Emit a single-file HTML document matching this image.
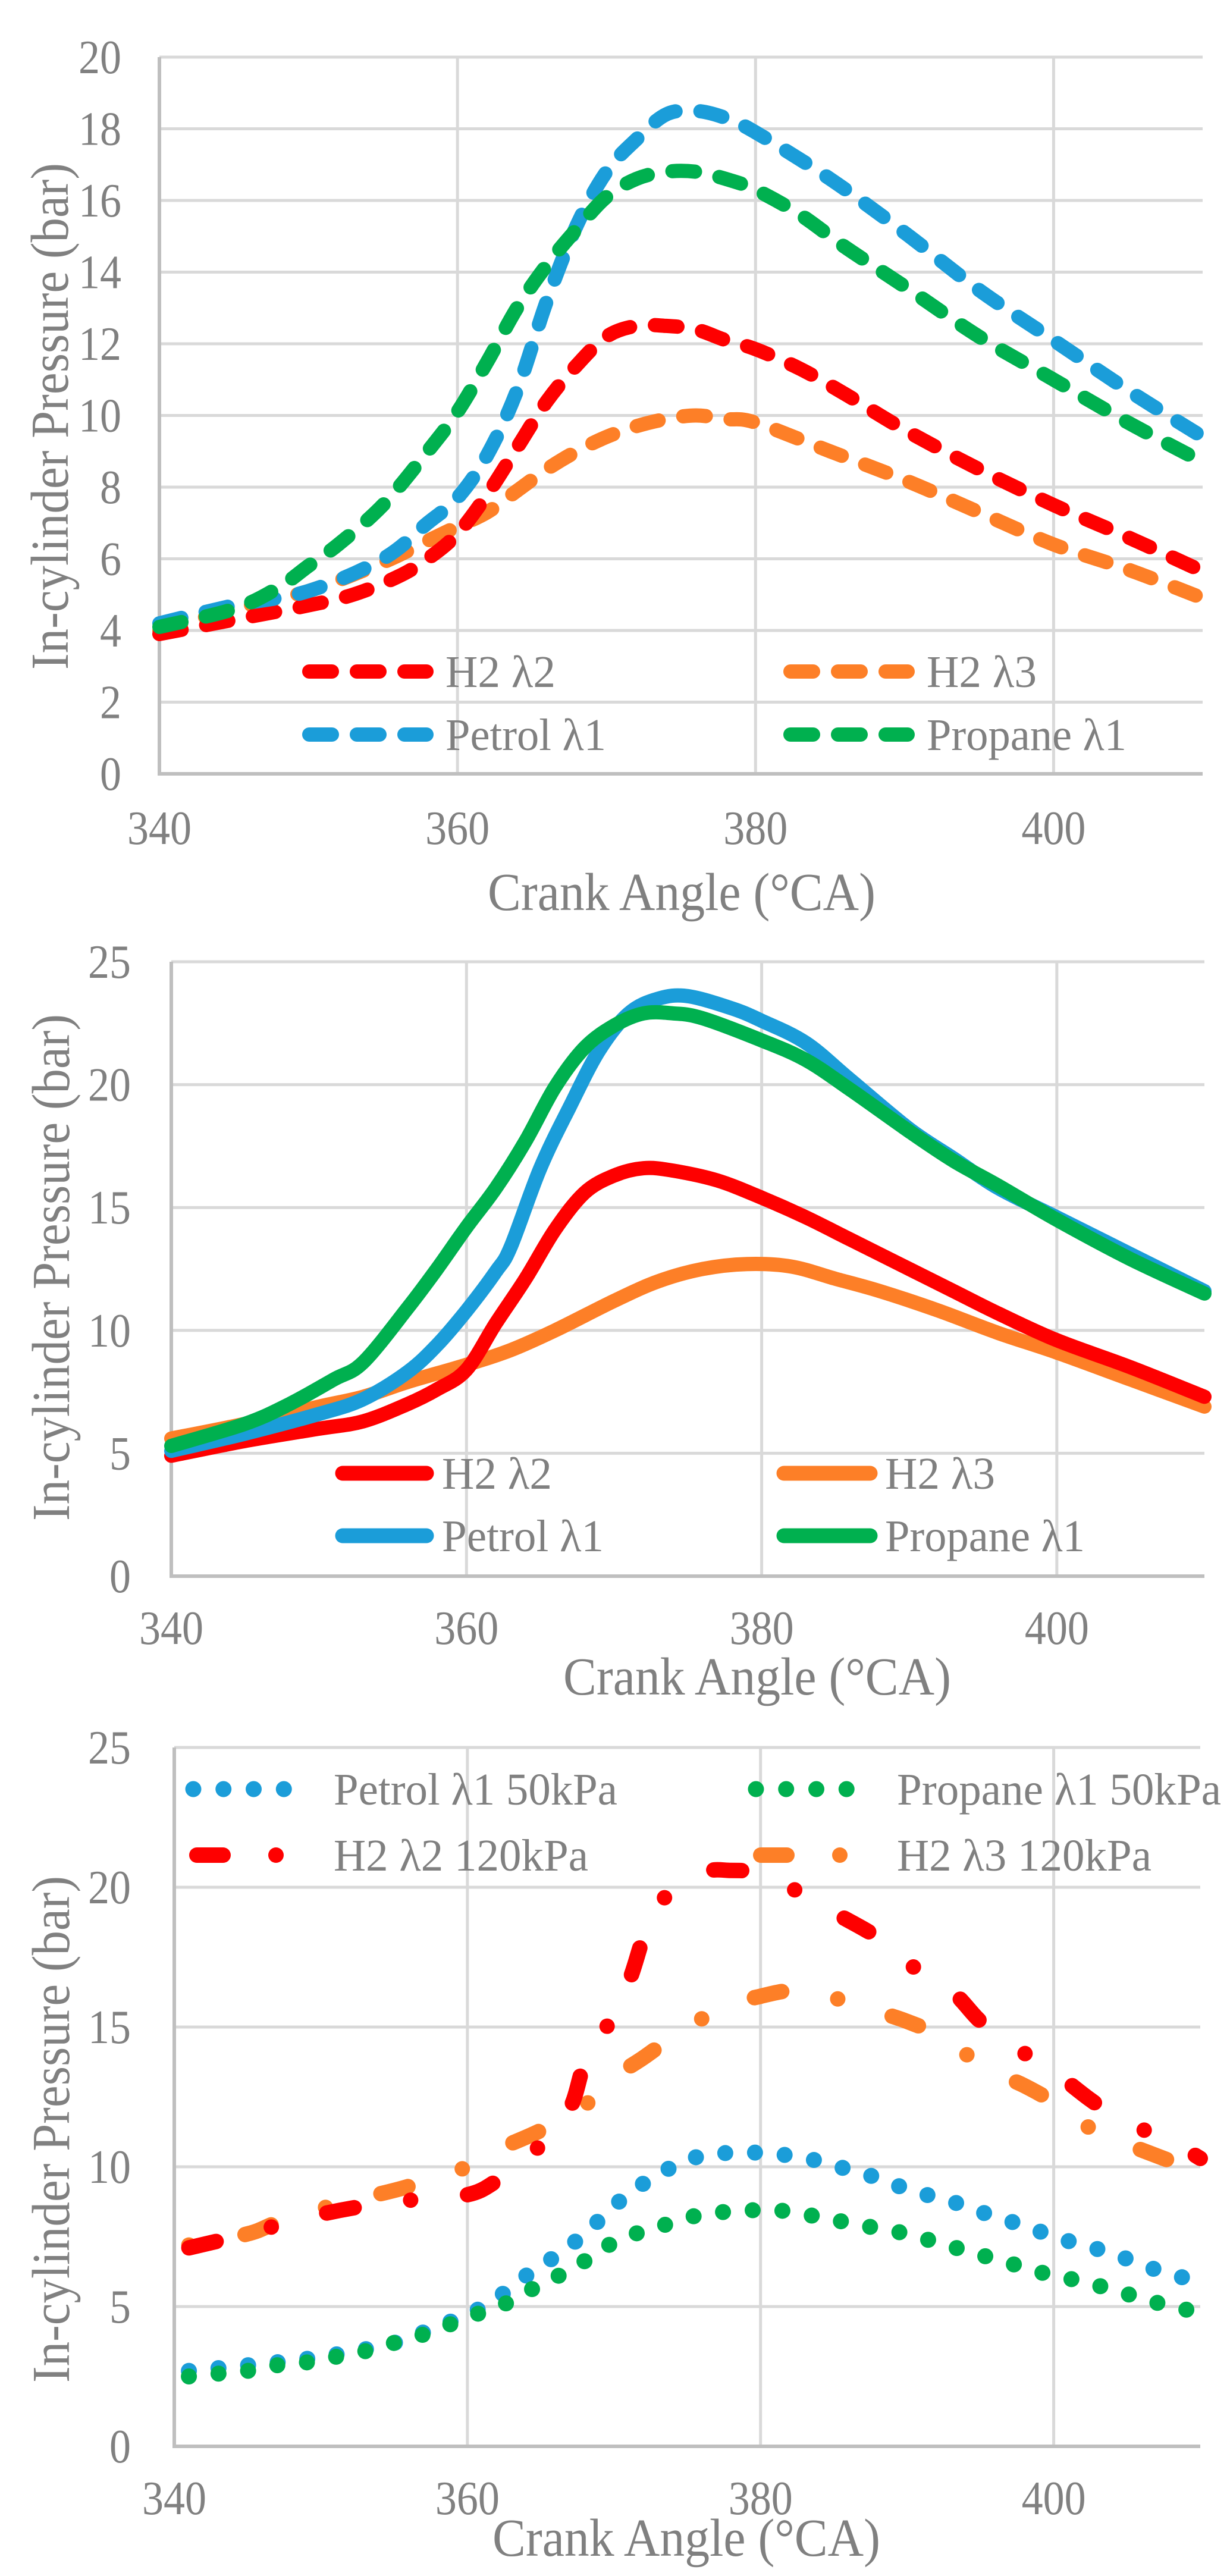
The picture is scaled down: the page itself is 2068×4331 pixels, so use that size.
<!DOCTYPE html>
<html><head><meta charset="utf-8"><title>In-cylinder pressure charts</title>
<style>
html,body{margin:0;padding:0;background:#fff;}
svg{display:block;}
text{font-family:"Liberation Serif",serif;fill:#808080;}
</style></head>
<body>
<svg id="root" width="2068" height="4331" viewBox="0 0 2068 4331" xmlns="http://www.w3.org/2000/svg"></svg>
<script>
// ---------- DATA ----------
const xTicks = [340, 360, 380, 400];
const yTicks1 = [0, 2, 4, 6, 8, 10, 12, 14, 16, 18, 20];
const yTicks2 = [0, 5, 10, 15, 20, 25];
const yTicks3 = [0, 5, 10, 15, 20, 25];

// Chart 1 (dashed)
const c1PetrolX = [340,345,350,355,358,360,362,364,366,368,370,372,374,376,378,380,385,390,395,400,405,410];
const c1PetrolY = [4.2,4.7,5.1,6.0,7.0,7.7,8.9,10.7,13.2,15.3,16.8,17.7,18.4,18.5,18.3,17.9,16.6,15.1,13.5,12.1,10.7,9.4];
const c1PropaneX = [340,345,348,350,352,355,358,360,362,364,366,368,370,372,374,376,378,380,383,386,390,395,400,405,410];
const c1PropaneY = [4.1,4.6,5.2,5.8,6.4,7.5,9.0,10.1,11.5,13.0,14.2,15.2,16.1,16.6,16.8,16.8,16.6,16.3,15.6,14.7,13.6,12.2,11.0,9.8,8.7];
const c1H2l2X = [340,345,350,353,356,358,360,362,364,366,368,370,372,374,376,378,380,383,386,390,395,400,405,410];
const c1H2l2Y = [3.9,4.3,4.7,5.0,5.5,6.0,6.7,7.8,9.1,10.4,11.4,12.2,12.5,12.5,12.4,12.1,11.85,11.3,10.6,9.6,8.5,7.5,6.6,5.65];
const c1H2l3X = [340,345,350,355,358,360,362,364,366,368,370,372,374,376,378,380,385,390,395,400,405,410];
const c1H2l3Y = [4.0,4.6,5.1,5.9,6.5,6.9,7.3,7.9,8.5,9.0,9.4,9.7,9.9,10.0,9.9,9.8,9.0,8.2,7.3,6.4,5.7,4.9];

// Chart 2 (solid)
const c2PetrolX = [340,345,350,353,356,358,360,362,363,365,367,369,371,373,375,378,380,383,386,390,393,396,400,405,410];
const c2PetrolY = [5.1,5.8,6.6,7.2,8.3,9.4,10.8,12.4,13.4,16.6,19.1,21.4,22.9,23.5,23.6,23.1,22.6,21.7,20.2,18.2,17.0,15.8,14.6,13.1,11.6];
const c2PropaneX = [340,345,348,351,353,356,358,360,362,364,366,368,370,372,374,376,380,383,386,390,393,396,400,405,410];
const c2PropaneY = [5.3,6.2,7.0,8.0,8.7,10.9,12.5,14.2,15.8,17.7,19.9,21.5,22.4,22.9,22.9,22.7,21.8,21.0,19.8,18.1,16.9,15.9,14.5,12.9,11.5];
const c2H2l2X = [340,345,350,353,356,358,360,362,364,366,368,370,372,374,377,380,383,386,390,393,396,400,405,410];
const c2H2l2Y = [4.9,5.5,6.0,6.3,7.0,7.6,8.4,10.3,12.1,14.1,15.6,16.3,16.6,16.5,16.1,15.4,14.6,13.7,12.5,11.6,10.7,9.6,8.5,7.3];
const c2H2l3X = [340,345,350,353,356,360,363,366,370,373,376,379,382,385,388,392,396,400,405,410];
const c2H2l3Y = [5.6,6.2,6.9,7.3,7.9,8.6,9.2,10.0,11.2,12.0,12.5,12.7,12.6,12.1,11.6,10.8,9.9,9.1,8.0,6.9];

// Chart 3 (dotted / dash-dot)
const c3PetrolX = [341,345,350,355,358,360,362,364,366,368,370,372,374,376,378,380,382,384,386,388,390,392,394,396,398,400,402,404,406,408,410];
const c3PetrolY = [2.7,2.9,3.2,3.7,4.3,4.7,5.3,6.1,6.8,7.6,8.6,9.4,10.0,10.4,10.5,10.5,10.4,10.2,9.9,9.6,9.2,8.9,8.6,8.2,7.9,7.5,7.2,6.9,6.5,6.15,5.9];
const c3PropaneX = [341,343,345,347,349,351,353,355,357,359,361,363,365,367,368.5,370,372,374,376,378,380,382,384,386,388,390,392,394,396,398,400,402,404,406,408,410];
const c3PropaneY = [2.5,2.6,2.7,2.9,3.0,3.2,3.4,3.7,4.0,4.4,4.8,5.2,5.8,6.3,6.8,7.3,7.7,8.0,8.3,8.4,8.45,8.4,8.2,8.0,7.8,7.6,7.3,7.0,6.7,6.4,6.1,5.9,5.6,5.3,5.0,4.8];
const c3H2l2X = [341,345,347,350,353,356,360,362,364,365,367,368,369.5,371,372,373,376,378,380,382,385,388,390,393,395,397,400,402.5,404.5,408,410];
const c3H2l2Y = [7.1,7.6,7.9,8.3,8.6,8.8,9.0,9.5,10.3,10.8,12.1,13.7,15.0,16.6,18.2,19.4,20.5,20.6,20.5,20.0,19.1,18.2,17.3,16.3,15.2,14.4,13.4,12.4,11.7,10.9,10.3];
const c3H2l3X = [341,345,347,350,353,356,360,362,365,368,370,372,375,378,380,382,384,387,390,393,395,398,401,403,406,410];
const c3H2l3Y = [7.2,7.6,8.0,8.5,8.9,9.3,10.0,10.6,11.3,12.2,13.2,13.9,15.0,15.8,16.1,16.3,16.2,15.7,15.2,14.5,13.6,12.9,12.0,11.2,10.6,9.8];

// ---------- DRAWING ----------
const NS = "http://www.w3.org/2000/svg";
const root = document.getElementById("root");
function mk(tag, attrs, parent){
  const e = document.createElementNS(NS, tag);
  for (const k in attrs) e.setAttribute(k, attrs[k]);
  (parent||root).appendChild(e);
  return e;
}
function smoothPath(pts){
  let d = "M" + pts[0][0].toFixed(1) + "," + pts[0][1].toFixed(1);
  for (let i=0;i<pts.length-1;i++){
    const p0 = pts[i-1]||pts[i], p1 = pts[i], p2 = pts[i+1], p3 = pts[i+2]||pts[i+1];
    const c1x = p1[0]+(p2[0]-p0[0])/6, c1y = p1[1]+(p2[1]-p0[1])/6;
    const c2x = p2[0]-(p3[0]-p1[0])/6, c2y = p2[1]-(p3[1]-p1[1])/6;
    d += " C"+c1x.toFixed(1)+","+c1y.toFixed(1)+" "+c2x.toFixed(1)+","+c2y.toFixed(1)+" "+p2[0].toFixed(1)+","+p2[1].toFixed(1);
  }
  return d;
}

function drawChart(cfg){
  const g = mk("g", {});
  
  
  const sx = v => cfg.x0 + (v-340)/(410-340)*(cfg.x1-cfg.x0);
  const sy = v => cfg.yb + (v-0)/(cfg.ymax)*(cfg.yt-cfg.yb);
  // grid
  const gg = mk("g", {}, g);
  
  
  cfg.yTicks.forEach(t => { if (t>0) {
    const l = mk("line", {x1:cfg.x0, x2:cfg.x1, y1:sy(t), y2:sy(t), stroke:"#d9d9d9", "stroke-width":5}, gg);
    
    
  }});
  cfg.xTicks.forEach(t => { if (t>340) {
    const l = mk("line", {x1:sx(t), x2:sx(t), y1:cfg.yt, y2:cfg.yb, stroke:"#d9d9d9", "stroke-width":5}, gg);
    
    
  }});
  // axes
  const ya = mk("line", {x1:cfg.x0, x2:cfg.x0, y1:cfg.yt, y2:cfg.yb+3, stroke:"#bfbfbf", "stroke-width":6}, g);
  
  
  const xa = mk("line", {x1:cfg.x0-3, x2:cfg.x1, y1:cfg.yb, y2:cfg.yb, stroke:"#bfbfbf", "stroke-width":6}, g);
  
  
  // tick labels
  cfg.yTicks.forEach(t => {
    const s = String(t);
    const tx = mk("text", {x:cfg.yLabRight, y:sy(t)+27, "font-size":80, "text-anchor":"end", textLength:s.length*36, lengthAdjust:"spacingAndGlyphs"}, g);
    tx.textContent = s;
    
    
  });
  cfg.xTicks.forEach(t => {
    const s = String(t);
    const tx = mk("text", {x:sx(t), y:cfg.xLabY+27, "font-size":80, "text-anchor":"middle", textLength:108, lengthAdjust:"spacingAndGlyphs"}, g);
    tx.textContent = s;
    
    
  });
  // axis titles
  const xt = mk("text", {x:cfg.xTitleX, y:cfg.xTitleY+30, "font-size":90, "text-anchor":"middle", textLength:652, lengthAdjust:"spacingAndGlyphs"}, g);
  xt.textContent = "Crank Angle (°CA)";
  
  
  const yt = mk("text", {x:0, y:0, "font-size":90, "text-anchor":"middle", textLength:852, lengthAdjust:"spacingAndGlyphs",
    transform:"translate("+(cfg.yTitleX+30)+","+cfg.yTitleY+") rotate(-90)"}, g);
  yt.textContent = "In-cylinder Pressure (bar)";
  
  
  // series
  cfg.series.forEach(s => {
    const pts = s.x.map((v,i)=>[sx(v), sy(s.y[i])]);
    const p = mk("path", {d:smoothPath(pts), fill:"none", stroke:s.color, "stroke-width":s.width, "stroke-linecap":"round", "stroke-linejoin":"round"}, g);
    if (s.dash) p.setAttribute("stroke-dasharray", s.dash);
    if (s.offset) p.setAttribute("stroke-dashoffset", s.offset);
    
    
  });
  // legend
  cfg.legend.forEach(L => {
    const lg = mk("g", {}, g);
    
    
    if (L.kind === "dashdot") {
      mk("line", {x1:L.sx0+13, x2:L.sx0+57, y1:L.y, y2:L.y, stroke:L.color, "stroke-width":L.width, "stroke-linecap":"round"}, lg);
      mk("circle", {cx:L.sx0+146, cy:L.y, r:L.width/2, fill:L.color}, lg);
    } else {
      const ln = mk("line", {x1:L.sx0, x2:L.sx1, y1:L.y, y2:L.y, stroke:L.color, "stroke-width":L.width, "stroke-linecap":"round"}, lg);
      if (L.dash) ln.setAttribute("stroke-dasharray", L.dash);
    }
    const tx = mk("text", {x:L.tx, y:L.y+26, "font-size":76, textLength:L.tw, lengthAdjust:"spacingAndGlyphs"}, lg);
    tx.textContent = L.label;
  });
}

const dash1 = "38 42";
drawChart({
  name:"chart-dashed-pressure", x0:268, x1:2022, yb:1301, yt:96, ymax:20,
  xTicks:xTicks, yTicks:yTicks1, yLabRight:204, xLabY:1392, xTitleX:1146, xTitleY:1500, yTitleX:84, yTitleY:700,
  series:[
    {x:c1H2l3X, y:c1H2l3Y, color:"#fd7f27", width:24, dash:dash1, dname:"series-h2-lambda3-dashed"},
    {x:c1H2l2X, y:c1H2l2Y, color:"#fe0000", width:24, dash:dash1, dname:"series-h2-lambda2-dashed"},
    {x:c1PetrolX, y:c1PetrolY, color:"#1b9dd9", width:24, dash:dash1, dname:"series-petrol-dashed"},
    {x:c1PropaneX, y:c1PropaneY, color:"#00b04f", width:24, dash:dash1, dname:"series-propane-dashed"}
  ],
  legend:[
    {label:"H2 λ2", color:"#fe0000", width:24, sx0:520, sx1:717, dash:dash1, y:1129, tx:749, tw:185},
    {label:"H2 λ3", color:"#fd7f27", width:24, sx0:1329, sx1:1526, dash:dash1, y:1129, tx:1558, tw:185},
    {label:"Petrol λ1", color:"#1b9dd9", width:24, sx0:520, sx1:717, dash:dash1, y:1235, tx:749, tw:270},
    {label:"Propane λ1", color:"#00b04f", width:24, sx0:1329, sx1:1526, dash:dash1, y:1235, tx:1558, tw:336}
  ]
});

drawChart({
  name:"chart-solid-pressure", x0:288, x1:2025, yb:2650, yt:1617, ymax:25,
  xTicks:xTicks, yTicks:yTicks2, yLabRight:220, xLabY:2737, xTitleX:1273, xTitleY:2819, yTitleX:86, yTitleY:2131,
  series:[
    {x:c2H2l3X, y:c2H2l3Y, color:"#fd7f27", width:24, dname:"series-h2-lambda3-solid"},
    {x:c2H2l2X, y:c2H2l2Y, color:"#fe0000", width:24, dname:"series-h2-lambda2-solid"},
    {x:c2PetrolX, y:c2PetrolY, color:"#1b9dd9", width:24, dname:"series-petrol-solid"},
    {x:c2PropaneX, y:c2PropaneY, color:"#00b04f", width:24, dname:"series-propane-solid"}
  ],
  legend:[
    {label:"H2 λ2", color:"#fe0000", width:25, sx0:576, sx1:717, y:2477, tx:743, tw:185},
    {label:"H2 λ3", color:"#fd7f27", width:25, sx0:1318, sx1:1463, y:2477, tx:1488, tw:185},
    {label:"Petrol λ1", color:"#1b9dd9", width:25, sx0:576, sx1:717, y:2582, tx:743, tw:272},
    {label:"Propane λ1", color:"#00b04f", width:25, sx0:1318, sx1:1463, y:2582, tx:1488, tw:336}
  ]
});

drawChart({
  name:"chart-dotted-pressure", x0:293, x1:2018, yb:4113, yt:2938, ymax:25,
  xTicks:xTicks, yTicks:yTicks3, yLabRight:220, xLabY:4200, xTitleX:1154, xTitleY:4267, yTitleX:86, yTitleY:3580,
  series:[
    {x:c3PetrolX, y:c3PetrolY, color:"#1b9dd9", width:27, dash:"0 50", dname:"series-petrol-50kpa-dotted"},
    {x:c3PropaneX, y:c3PropaneY, color:"#00b04f", width:27, dash:"0 50", dname:"series-propane-50kpa-dotted"},
    {x:c3H2l3X, y:c3H2l3Y, color:"#fd7f27", width:26, dash:"47 96 0 96", offset:"-96", dname:"series-h2-lambda3-120kpa-dashdot"},
    {x:c3H2l2X, y:c3H2l2Y, color:"#fe0000", width:26, dash:"47 96 0 96", dname:"series-h2-lambda2-120kpa-dashdot"}
  ],
  legend:[
    {label:"Petrol λ1 50kPa", color:"#1b9dd9", width:27, sx0:325, sx1:528, dash:"0 50.75", y:3008, tx:561, tw:477},
    {label:"Propane λ1 50kPa", color:"#00b04f", width:27, sx0:1271, sx1:1474, dash:"0 50.75", y:3008, tx:1508, tw:545},
    {label:"H2 λ2 120kPa", color:"#fe0000", width:26, kind:"dashdot", sx0:318, y:3119, tx:561, tw:428},
    {label:"H2 λ3 120kPa", color:"#fd7f27", width:26, kind:"dashdot", sx0:1266, y:3119, tx:1508, tw:428}
  ]
});
</script>
</body></html>
